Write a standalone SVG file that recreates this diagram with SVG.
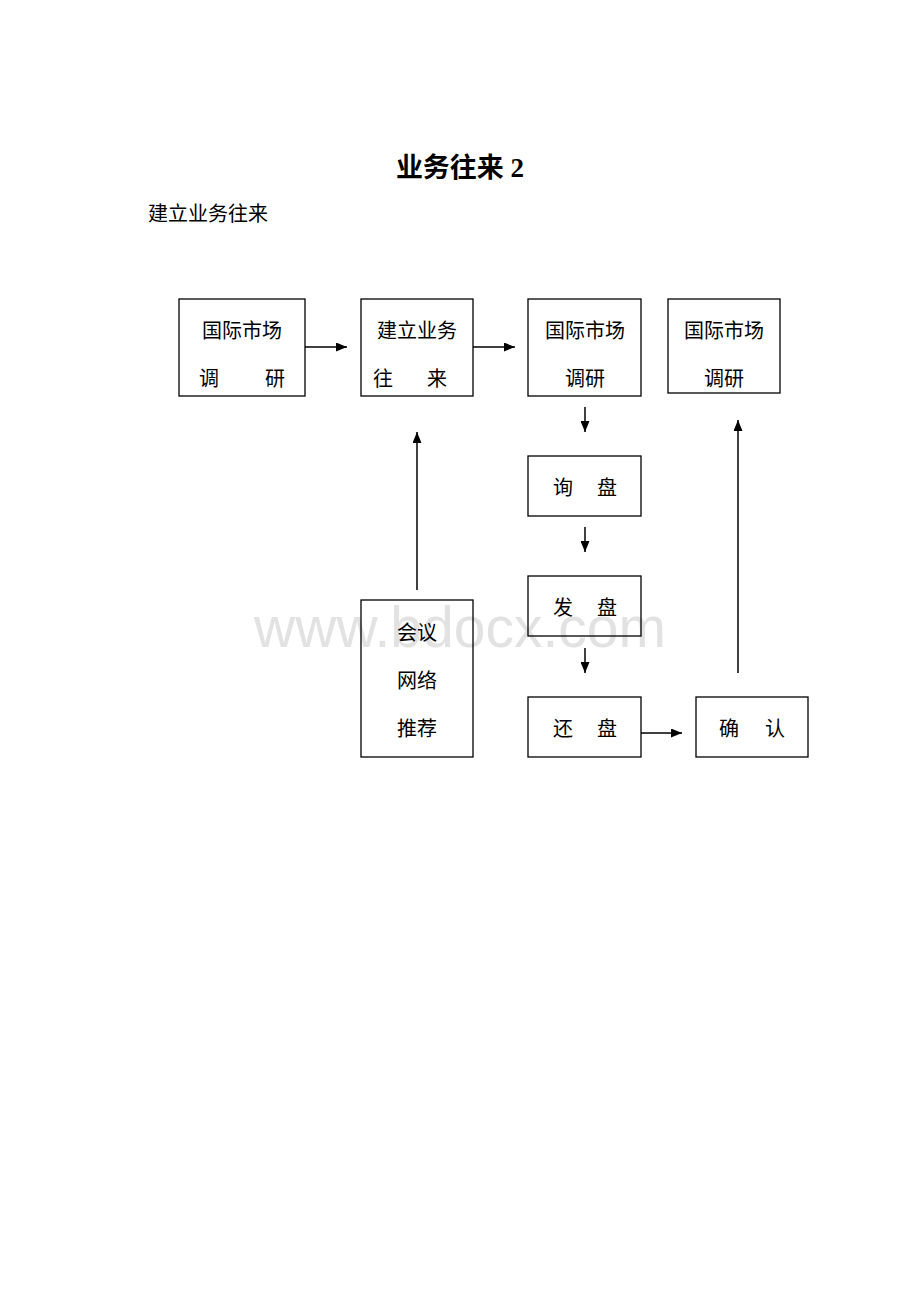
<svg xmlns="http://www.w3.org/2000/svg" width="920" height="1302" viewBox="0 0 920 1302">
<style>
.box{fill:none;stroke:#000;stroke-width:1.3}
.t{font-family:"Liberation Serif","Noto Sans CJK SC",serif;font-size:20px;fill:#000}
.c{text-anchor:middle}
.ln{stroke:#000;stroke-width:1.5;fill:none}
</style>
<defs>
<marker id="ah" markerWidth="11" markerHeight="9" refX="11" refY="4.5" orient="auto" markerUnits="userSpaceOnUse">
<path d="M0,0 L11,4.5 L0,9 Z" fill="#000"/>
</marker>
</defs>
<rect width="920" height="1302" fill="#fff"/>
<text x="460" y="647" text-anchor="middle" font-family="Liberation Sans,Arial,sans-serif" font-size="57" fill="#e2e2e2">www.bdocx.com</text>
<text x="460" y="177" class="c" font-family="Liberation Serif,'Noto Sans CJK SC',serif" font-size="27" font-weight="bold">业务往来 2</text>
<text x="148" y="221" class="t" font-size="16">建立业务往来</text>
<g id="n1"><rect class="box" x="179" y="299" width="126" height="97"/><text class="t c" x="242" y="338">国际市场</text><text class="t" x="199" y="386">调</text><text class="t" x="265" y="386">研</text></g>
<g id="n2"><rect class="box" x="361" y="299" width="112" height="97"/><text class="t c" x="417" y="338">建立业务</text><text class="t" x="373" y="386">往</text><text class="t" x="427" y="386">来</text></g>
<g id="n3"><rect class="box" x="528" y="299" width="113" height="97"/><text class="t c" x="585" y="338">国际市场</text><text class="t c" x="585" y="386">调研</text></g>
<g id="n4"><rect class="box" x="668" y="299" width="112" height="94"/><text class="t c" x="724" y="338">国际市场</text><text class="t c" x="724" y="386">调研</text></g>
<g id="n5"><rect class="box" x="528" y="456" width="113" height="60"/><text class="t" x="553" y="495">询</text><text class="t" x="597" y="495">盘</text></g>
<g id="n6"><rect class="box" x="528" y="576" width="113" height="60"/><text class="t" x="553" y="615">发</text><text class="t" x="597" y="615">盘</text></g>
<g id="n7"><rect class="box" x="528" y="697" width="113" height="60"/><text class="t" x="553" y="736">还</text><text class="t" x="597" y="736">盘</text></g>
<g id="n8"><rect class="box" x="696" y="697" width="112" height="60"/><text class="t" x="719" y="736">确</text><text class="t" x="765" y="736">认</text></g>
<g id="n9"><rect class="box" x="361" y="600" width="112" height="157"/><text class="t c" x="417" y="640">会议</text><text class="t c" x="417" y="688">网络</text><text class="t c" x="417" y="736">推荐</text></g>
<g id="connectors">
<line class="ln" x1="305" y1="347" x2="347" y2="347" marker-end="url(#ah)"/>
<line class="ln" x1="473" y1="347" x2="515" y2="347" marker-end="url(#ah)"/>
<line class="ln" x1="585" y1="407" x2="585" y2="432" marker-end="url(#ah)"/>
<line class="ln" x1="585" y1="527" x2="585" y2="552" marker-end="url(#ah)"/>
<line class="ln" x1="585" y1="648" x2="585" y2="673" marker-end="url(#ah)"/>
<line class="ln" x1="641" y1="733" x2="682" y2="733" marker-end="url(#ah)"/>
<line class="ln" x1="738" y1="673" x2="738" y2="420" marker-end="url(#ah)"/>
<line class="ln" x1="417" y1="590" x2="417" y2="432" marker-end="url(#ah)"/>
</g>
</svg>
